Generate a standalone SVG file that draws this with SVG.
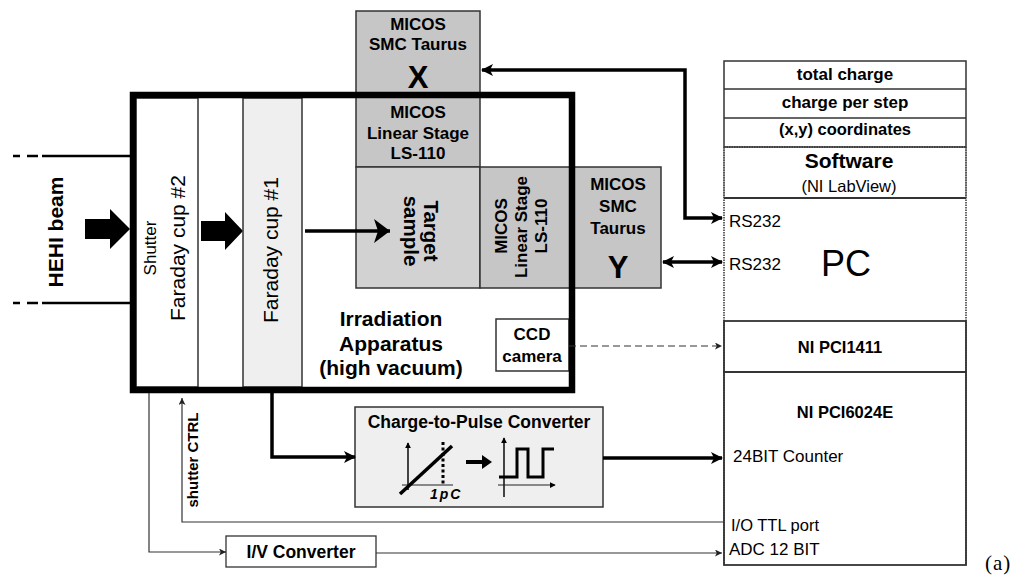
<svg xmlns="http://www.w3.org/2000/svg" width="1028" height="579" viewBox="0 0 1028 579">
<defs>
<style>
text{font-family:"Liberation Sans",Arial,sans-serif;fill:#000}
.b{font-weight:bold}
.box{stroke:#333;stroke-width:1.5}
.mic{fill:#c6c6c6}
.thin{fill:none;stroke:#333;stroke-width:1.2}
.thick{fill:none;stroke:#000;stroke-width:3.5}
</style>
<marker id="ah" viewBox="0 0 12 12" refX="11" refY="6" markerWidth="12" markerHeight="12" markerUnits="userSpaceOnUse" orient="auto-start-reverse">
<path d="M0,0 L12,6 L0,12 L3,6 z" fill="#000"/>
</marker>
<marker id="as" viewBox="0 0 8 8" refX="8" refY="4" markerWidth="7" markerHeight="7" markerUnits="userSpaceOnUse" orient="auto">
<path d="M0,0 L8,4 L0,8 L2,4 z" fill="#222"/>
</marker>
<marker id="ab" viewBox="0 0 16 24" refX="16" refY="12" markerWidth="16" markerHeight="24" markerUnits="userSpaceOnUse" orient="auto">
<path d="M0,0 L16,12 L0,24 L4,12 z" fill="#000"/>
</marker>
<marker id="ai" viewBox="0 0 8 8" refX="7" refY="4" markerWidth="6" markerHeight="6" markerUnits="userSpaceOnUse" orient="auto">
<path d="M0,0 L8,4 L0,8 z" fill="#000"/>
</marker>
</defs>
<rect width="1028" height="579" fill="#fff"/>

<g id="beam">
<path d="M13,156 H20 M27,156 H38 M42,156 H130 M13,303 H20 M27,303 H38 M42,303 H130" stroke="#000" stroke-width="2.5" fill="none"/>
<text class="b" font-size="21" text-anchor="middle" transform="translate(63,232) rotate(-90)">HEHI beam</text>
<path d="M85,219 H110 V209 L130,229 L110,249 V239 H85 z" fill="#000"/>
</g>

<g id="micos-x">
<rect class="box mic" x="356" y="11" width="124" height="86"/>
<text class="b" font-size="17" x="418" y="30" text-anchor="middle">MICOS</text>
<text class="b" font-size="17" x="418" y="50" text-anchor="middle">SMC Taurus</text>
<text class="b" font-size="31" x="418" y="88" text-anchor="middle">X</text>
</g>

<g id="linear-stage-x">
<rect class="box mic" x="356" y="97" width="124" height="70"/>
<text class="b" font-size="17" x="418" y="118" text-anchor="middle">MICOS</text>
<text class="b" font-size="17" x="418" y="139" text-anchor="middle">Linear Stage</text>
<text class="b" font-size="17" x="418" y="159" text-anchor="middle">LS-110</text>
</g>

<g id="target">
<rect class="box" fill="#d2d2d2" x="356" y="167" width="124" height="121"/>
<text class="b" font-size="20.5" text-anchor="middle" transform="translate(424,231) rotate(90)">Target</text>
<text class="b" font-size="20.5" text-anchor="middle" transform="translate(404,231) rotate(90)">sample</text>
</g>

<g id="linear-stage-y">
<rect class="box mic" x="480" y="167" width="92" height="121"/>
<text class="b" font-size="17" text-anchor="middle" transform="translate(507,226) rotate(-90)">MICOS</text>
<text class="b" font-size="17" text-anchor="middle" transform="translate(527,227) rotate(-90)">Linear Stage</text>
<text class="b" font-size="17" text-anchor="middle" transform="translate(547,226) rotate(-90)">LS-110</text>
</g>

<g id="micos-y">
<rect class="box mic" x="572" y="167" width="89" height="121"/>
<text class="b" font-size="17" x="618" y="190" text-anchor="middle">MICOS</text>
<text class="b" font-size="17" x="618" y="212" text-anchor="middle">SMC</text>
<text class="b" font-size="17" x="618" y="234" text-anchor="middle">Taurus</text>
<text class="b" font-size="31" x="618" y="278" text-anchor="middle">Y</text>
</g>

<g id="faraday2">
<rect x="136" y="98" width="62" height="289" fill="#fff" stroke="#333" stroke-width="1.5"/>
<text font-size="17" text-anchor="middle" transform="translate(156,248) rotate(-90)">Shutter</text>
<text font-size="21" text-anchor="middle" transform="translate(185,248) rotate(-90)">Faraday cup  #2</text>
</g>

<g id="gap">
<path d="M201,221 H225 V212 L243,231 L225,250 V241 H201 z" fill="#000"/>
</g>

<g id="faraday1">
<rect x="243" y="98" width="59" height="289" fill="#efefef" stroke="#333" stroke-width="1.5"/>
<text font-size="21" text-anchor="middle" transform="translate(278,250) rotate(-90)">Faraday cup  #1</text>
</g>

<g id="ccd">
<rect class="box" fill="#fff" x="496" y="319" width="73" height="52"/>
<text class="b" font-size="17" x="532" y="340" text-anchor="middle">CCD</text>
<text class="b" font-size="17" x="532" y="362" text-anchor="middle">camera</text>
</g>

<g id="irradiation">
<rect x="133" y="95" width="439" height="295" fill="none" stroke="#000" stroke-width="6.5"/>
<text class="b" font-size="21" x="391" y="326" text-anchor="middle">Irradiation</text>
<text class="b" font-size="21" x="391" y="351" text-anchor="middle">Apparatus</text>
<text class="b" font-size="21" x="391" y="375" text-anchor="middle">(high vacuum)</text>
</g>

<g id="charge-to-pulse">
<rect class="box" fill="#efefef" x="355" y="407" width="248" height="100"/>
<text class="b" font-size="17.5" x="479" y="428" text-anchor="middle">Charge-to-Pulse Converter</text>
<path d="M408,490 V443 M402,485 H453 M504,497 V438 M498,485 H555" stroke="#222" stroke-width="1.2" fill="none" marker-end="url(#ai)"/>
<path d="M408,490 V443" stroke="#222" stroke-width="1.2" fill="none" marker-end="url(#ai)"/>
<path d="M504,497 V438" stroke="#222" stroke-width="1.2" fill="none" marker-end="url(#ai)"/>
<path d="M400,494 L452,446" stroke="#000" stroke-width="3.5" fill="none"/>
<path d="M443,442 V485" stroke="#000" stroke-width="3" stroke-dasharray="3,2.5" fill="none"/>
<text class="b" font-size="14" font-style="italic" x="430" y="499" letter-spacing="2">1pC</text>
<path d="M466,462 H484" stroke="#000" stroke-width="4" fill="none"/>
<path d="M482,455 L492,462 L482,469 z" fill="#000"/>
<path d="M499,477 H517 V449 H528 V477 H543 V449 H554" stroke="#000" stroke-width="3" fill="none"/>
</g>

<g id="iv-converter">
<rect x="226" y="536" width="150" height="31" fill="#fff" stroke="#333" stroke-width="1.3"/>
<text class="b" font-size="17.5" x="301" y="558" text-anchor="middle">I/V Converter</text>
</g>

<g id="pc">
<rect x="724" y="61" width="242" height="86" fill="#fff" stroke="#333" stroke-width="1.5"/>
<path d="M724,89 H966 M724,118 H966" stroke="#333" stroke-width="1.5"/>
<text class="b" font-size="17" x="845" y="80" text-anchor="middle">total charge</text>
<text class="b" font-size="17" x="845" y="108" text-anchor="middle">charge per step</text>
<text class="b" font-size="16.5" x="845" y="135" text-anchor="middle">(x,y) coordinates</text>
<path d="M724,147 H966 M724,147 V565 M966,147 V565" stroke="#333" stroke-width="1.5" stroke-dasharray="1.5,1" fill="none"/>
<path d="M724,147 V198 M966,147 V198" stroke="#555" stroke-width="1" fill="none"/>
<path d="M724,198 H966" stroke="#333" stroke-width="2" fill="none"/>
<text class="b" font-size="21" x="849" y="168" text-anchor="middle">Software</text>
<text font-size="16.5" x="849" y="192" text-anchor="middle">(NI LabView)</text>
<text font-size="17" x="729" y="227">RS232</text>
<text font-size="17" x="729" y="270">RS232</text>
<text font-size="36" x="821" y="276">PC</text>
</g>

<g id="pci1411">
<rect x="724" y="321" width="242" height="51" fill="none" stroke="#333" stroke-width="1.8"/>
<text class="b" font-size="16.5" x="840" y="353" text-anchor="middle">NI PCI1411</text>
</g>

<g id="pci6024e">
<rect x="724" y="372" width="242" height="193" fill="none" stroke="#333" stroke-width="1.8"/>
<text class="b" font-size="16.5" x="845" y="418" text-anchor="middle">NI PCI6024E</text>
<text font-size="17" x="733" y="462">24BIT Counter</text>
<text font-size="16.5" x="731" y="531">I/O TTL port</text>
<text font-size="17" x="729" y="555">ADC 12 BIT</text>
</g>

<g id="connectors">
<path d="M305,231 H390" class="thick" stroke-width="4.5" marker-end="url(#ab)"/>
<path d="M482,70 H685 V218 H722" class="thick" stroke-width="3" marker-start="url(#ah)" marker-end="url(#ah)"/>
<path d="M663,262 H722" class="thick" stroke-width="2.5" marker-start="url(#ah)" marker-end="url(#ah)"/>
<path d="M569,346 H722" fill="none" stroke="#333" stroke-width="1.2" stroke-dasharray="7,4" marker-end="url(#as)"/>
<path d="M272,393 V457 H355" class="thick" stroke-width="3.5" marker-end="url(#ah)"/>
<path d="M603,458 H722" class="thick" stroke-width="3.5" marker-end="url(#ah)"/>
<path d="M724,522 H182 V398" class="thin" marker-end="url(#as)"/>
<path d="M149,393 V552 H226" class="thin" marker-end="url(#as)"/>
<path d="M376,553 H722" class="thin" marker-end="url(#as)"/>
</g>
<text class="b" font-size="15" text-anchor="middle" transform="translate(198,460) rotate(-90)">shutter CTRL</text>
<text font-family="Liberation Serif,serif" font-size="21" x="985" y="570" letter-spacing="1" style="font-family:'Liberation Serif',serif">(a)</text>
</svg>
